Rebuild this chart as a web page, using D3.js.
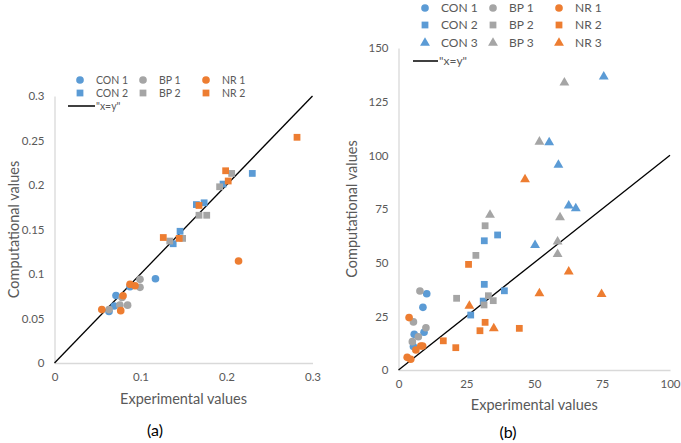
<!DOCTYPE html>
<html><head><meta charset="utf-8">
<script src="https://cdn.jsdelivr.net/npm/d3@7"></script>
<style>body{margin:0;background:#fff}svg text{font-family:Lato,"Open Sans",sans-serif}</style>
</head><body>
<svg id="c" width="681" height="443"></svg>
<script>
// ---- Panel (a) data ----
const a_CON1 = [[0.0634,0.058],[0.0695,0.064],[0.0715,0.0758],[0.0878,0.0857],[0.1174,0.0947]];
const a_BP1  = [[0.0634,0.060],[0.076,0.065],[0.085,0.065],[0.0785,0.0736],[0.0994,0.085],[0.0994,0.094]];
const a_NR1  = [[0.055,0.060],[0.077,0.0588],[0.0797,0.0756],[0.0878,0.0884],[0.0936,0.0868],[0.214,0.1146]];
const a_CON2 = [[0.138,0.134],[0.146,0.148],[0.165,0.178],[0.174,0.180],[0.196,0.201],[0.230,0.213]];
const a_BP2  = [[0.134,0.137],[0.149,0.140],[0.168,0.166],[0.177,0.166],[0.192,0.198],[0.206,0.213]];
const a_NR2  = [[0.1265,0.141],[0.145,0.140],[0.168,0.177],[0.202,0.2045],[0.199,0.216],[0.282,0.2536]];
const a_ticks = [0,0.05,0.1,0.15,0.2,0.25,0.3];
const a_xticks = [0,0.1,0.2,0.3];

// ---- Panel (b) data ----
const b_CON1 = [[10.4,35.5],[9.0,29.2],[5.8,16.6],[9.4,17.6],[5.5,10.9]];
const b_BP1  = [[7.9,36.8],[5.5,22.4],[10.1,19.7],[7.3,15.5],[5.1,13.2]];
const b_NR1  = [[3.9,24.4],[8.2,11.2],[8.9,11.2],[6.4,9.3],[3.2,5.9],[4.5,5.0]];
const b_CON2 = [[31.6,60.2],[36.5,62.9],[31.6,39.9],[39.0,36.9],[31.2,32.1],[26.6,25.6]];
const b_BP2  = [[31.9,67.2],[28.5,53.4],[21.4,33.4],[33.1,34.6],[34.9,32.3],[31.5,30.3]];
const b_NR2  = [[25.8,49.2],[31.9,22.2],[30.0,18.3],[44.5,19.4],[16.5,13.6],[21.1,10.4]];
const b_CON3 = [[75.6,136.6],[55.5,106],[58.9,95.5],[62.7,76.5],[65.3,75.3],[50.3,58.2]];
const b_BP3  = [[61.1,133.8],[51.9,106.3],[33.7,72.2],[59.5,71.1],[58.6,59.8],[58.6,54.0]];
const b_NR3  = [[46.6,88.8],[62.7,45.8],[51.9,35.7],[74.8,35.3],[26.1,29.8],[35.1,19.4]];
const b_ticks = [0,25,50,75,100,125,150];
const b_xticks = [0,25,50,75,100];

const BLUE="#5B9BD5", GRAY="#A5A5A5", ORANGE="#ED7D31";
const svg = d3.select("#c");
const sym = {circle:d3.symbolCircle, square:d3.symbolSquare, triangle:d3.symbolTriangle};
const size = {circle:46, square:46, triangle:42};

function panel(o){
  const g = svg.append("g");
  const x = d3.scaleLinear().domain(o.xd).range(o.xr);
  const y = d3.scaleLinear().domain(o.yd).range(o.yr);
  const ya = g.append("g").attr("transform",`translate(${o.xr[0]},0)`)
    .call(d3.axisLeft(y).tickValues(o.yt).tickSize(0).tickPadding(10).tickFormat(o.fmt));
  ya.select(".domain").attr("stroke","#D9D9D9").attr("stroke-width",1.3);
  const xa = g.append("g").attr("transform",`translate(0,${o.yr[0]})`)
    .call(d3.axisBottom(x).tickValues(o.xt).tickSize(0).tickPadding(10).tickFormat(o.fmt));
  xa.select(".domain").attr("stroke","#D9D9D9").attr("stroke-width",1.3);
  g.selectAll(".tick text").attr("fill","#595959").style("font-size","11.5px");
  g.append("line").attr("x1",x(0)).attr("y1",y(0)).attr("x2",x(o.diag)).attr("y2",y(o.diag))
    .attr("stroke","#000").attr("stroke-width",1.3);
  o.series.forEach(s=>{
    g.append("g").selectAll("path").data(s.data).join("path")
      .attr("d",d3.symbol().type(sym[s.shape]).size(size[s.shape]))
      .attr("transform",d=>`translate(${x(d[0])},${y(d[1])})`)
      .attr("fill",s.color);
  });
  g.append("text").attr("x",(o.xr[0]+o.xr[1])/2).attr("y",o.xtY).attr("text-anchor","middle")
    .attr("fill","#595959").style("font-size","14.5px").text("Experimental values");
  g.append("text").attr("transform",`translate(${o.ytX},${(o.yr[0]+o.yr[1])/2}) rotate(-90)`)
    .attr("text-anchor","middle").attr("fill","#595959").style("font-size","14.5px").text("Computational values");
  g.append("text").attr("x",o.lab[0]).attr("y",o.lab[1]).attr("text-anchor","middle")
    .attr("fill","#000").style("font-size","16px").text(o.label);
  const L = g.append("g");
  o.series.forEach(s=>{
    L.append("path").attr("d",d3.symbol().type(sym[s.shape]).size(size[s.shape])())
      .attr("transform",`translate(${s.lx},${s.ly})`).attr("fill",s.color);
    L.append("text").attr("x",s.lx+16).attr("y",s.ly+4).attr("fill","#595959")
      .style("font-size",o.lfs).text(s.name);
  });
  L.append("line").attr("x1",o.leg.x1).attr("x2",o.leg.x2).attr("y1",o.leg.y).attr("y2",o.leg.y)
    .attr("stroke","#000").attr("stroke-width",1.5);
  L.append("text").attr("x",o.leg.x2+1).attr("y",o.leg.y+4).attr("fill","#595959")
    .style("font-size",o.lfs).text('"x=y"');
}

const fmtA = d=> d===0?"0":String(d);
panel({
  xd:[0,0.3], xr:[54.5,312.5], yd:[0,0.3], yr:[363,96], yt:a_ticks, xt:a_xticks, fmt:fmtA, diag:0.3,
  xtY:404, ytX:19, lab:[155,436], label:"(a)", lfs:"10.5px",
  leg:{x1:68,x2:95,y:106},
  series:[
    {name:"CON 1",data:a_CON1,shape:"circle",color:BLUE,lx:80,ly:80},
    {name:"CON 2",data:a_CON2,shape:"square",color:BLUE,lx:80,ly:93},
    {name:"BP 1",data:a_BP1,shape:"circle",color:GRAY,lx:143,ly:80},
    {name:"BP 2",data:a_BP2,shape:"square",color:GRAY,lx:143,ly:93},
    {name:"NR 1",data:a_NR1,shape:"circle",color:ORANGE,lx:206,ly:80},
    {name:"NR 2",data:a_NR2,shape:"square",color:ORANGE,lx:206,ly:93}
  ]
});
panel({
  xd:[0,100], xr:[398.5,670], yd:[0,150], yr:[370,48], yt:b_ticks, xt:b_xticks, fmt:d=>String(d), diag:100,
  xtY:410, ytX:357, lab:[508,438], label:"(b)", lfs:"12px",
  leg:{x1:413,x2:438,y:61},
  series:[
    {name:"CON 1",data:b_CON1,shape:"circle",color:BLUE,lx:425,ly:8},
    {name:"CON 2",data:b_CON2,shape:"square",color:BLUE,lx:425,ly:25},
    {name:"CON 3",data:b_CON3,shape:"triangle",color:BLUE,lx:425,ly:43},
    {name:"BP 1",data:b_BP1,shape:"circle",color:GRAY,lx:493,ly:8},
    {name:"BP 2",data:b_BP2,shape:"square",color:GRAY,lx:493,ly:25},
    {name:"BP 3",data:b_BP3,shape:"triangle",color:GRAY,lx:493,ly:43},
    {name:"NR 1",data:b_NR1,shape:"circle",color:ORANGE,lx:559,ly:8},
    {name:"NR 2",data:b_NR2,shape:"square",color:ORANGE,lx:559,ly:25},
    {name:"NR 3",data:b_NR3,shape:"triangle",color:ORANGE,lx:559,ly:43}
  ]
});
</script>
</body></html>
